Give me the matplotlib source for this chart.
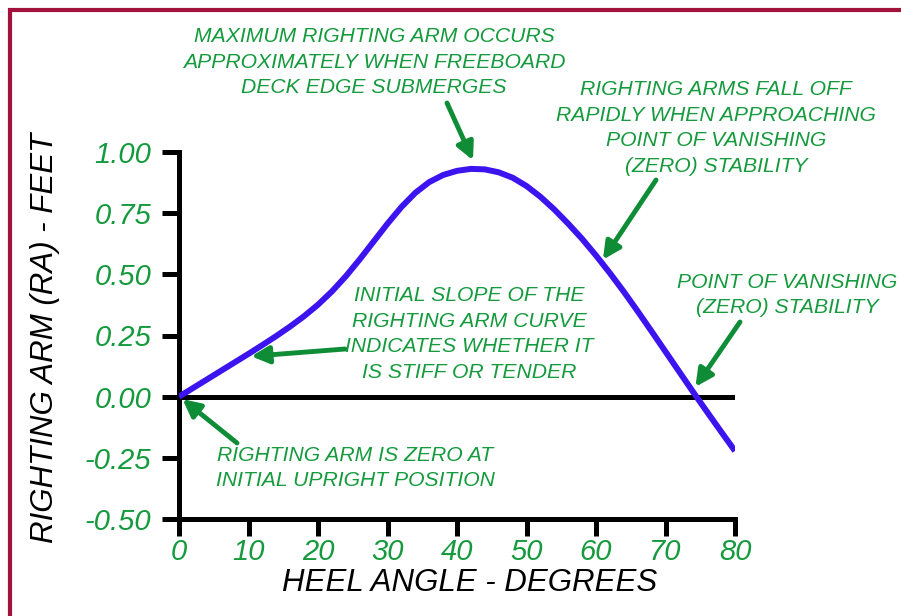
import matplotlib
matplotlib.use('Agg')
import matplotlib.pyplot as plt
from matplotlib.patches import Rectangle

# righting arm curve, every 2 degrees
heel = [0, 2, 4, 6, 8, 10, 12, 14, 16, 18, 20, 22, 24, 26, 28, 30, 32, 34, 36, 38, 40,
        42, 44, 46, 48, 50, 52, 54, 56, 58, 60, 62, 64, 66, 68, 70, 72, 74, 76, 78, 80]
ra = [0.000, 0.035, 0.070, 0.105, 0.140, 0.175, 0.211, 0.248, 0.287, 0.329, 0.376,
      0.430, 0.492, 0.561, 0.634, 0.707, 0.775, 0.833, 0.877, 0.906, 0.923, 0.931,
      0.929, 0.917, 0.895, 0.861, 0.817, 0.765, 0.707, 0.645, 0.577, 0.505, 0.429,
      0.349, 0.267, 0.184, 0.101, 0.018, -0.063, -0.143, -0.222]
xticks = [0, 10, 20, 30, 40, 50, 60, 70, 80]
yticks = [1.00, 0.75, 0.50, 0.25, 0.00, -0.25, -0.50]

GREEN = '#159a3d'
ARROW = '#0f8c36'
BLUE = '#3c14f0'
W, H = 901, 616

plt.rcParams['font.family'] = ['Liberation Sans', 'DejaVu Sans']
plt.rcParams['font.style'] = 'italic'

fig = plt.figure(figsize=(W / 100, H / 100), dpi=100)


def fp(x, y):
    # pixel from top-left -> figure fraction
    return (x / W, 1 - y / H)


# maroon frame (runs off the right and bottom edges)
fig.patches.append(Rectangle(fp(10, 640), 940 / W, 630 / H, transform=fig.transFigure,
                             fill=False, edgecolor='#a3123c', linewidth=3, zorder=0))

ax = fig.add_axes([179 / W, 1 - 519 / H, (735 - 179) / W, (519 - 152) / H])
ax.set_xlim(0, 80)
ax.set_ylim(-0.5, 1.0)
for s in ['top', 'right']:
    ax.spines[s].set_visible(False)
for s in ['left', 'bottom']:
    ax.spines[s].set_linewidth(3.6)
    ax.spines[s].set_capstyle('projecting')
ax.patch.set_alpha(0)

ax.set_xticks(xticks)
ax.set_xticklabels([str(v) for v in xticks])
ax.set_yticks(yticks)
ax.set_yticklabels(['%.2f' % v for v in yticks])
ax.tick_params(axis='both', length=12, width=3.6, color='black', labelcolor=GREEN,
               labelsize=21)
ax.tick_params(axis='y', pad=8)
ax.tick_params(axis='x', pad=2)

ax.axhline(0, color='black', lw=3.6, zorder=2)
ax.plot(heel, ra, color=BLUE, lw=4.3, zorder=3, solid_capstyle='butt',
        solid_joinstyle='round')

fig.text(*fp(470, 583), 'HEEL ANGLE - DEGREES', fontsize=22.5, ha='center', va='center')
fig.text(*fp(45, 338), 'RIGHTING ARM (RA) - FEET', fontsize=22.5, ha='center',
         va='center', rotation=90)

imax = ra.index(max(ra))
notes = [
    ('MAXIMUM RIGHTING ARM OCCURS\nAPPROXIMATELY WHEN FREEBOARD\nDECK EDGE SUBMERGES',
     (374, 62), (447, 103), (42.3, ra[imax] + 0.035)),
    ('RIGHTING ARMS FALL OFF\nRAPIDLY WHEN APPROACHING\nPOINT OF VANISHING\n(ZERO) STABILITY',
     (716, 128), (656, 180), (61.0, 0.56)),
    ('POINT OF VANISHING\n(ZERO) STABILITY', (787, 295), (740, 322), (74.3, 0.04)),
    ('INITIAL SLOPE OF THE\nRIGHTING ARM CURVE\nINDICATES WHETHER IT\nIS STIFF OR TENDER',
     (469, 334), (345, 349), (10.4, 0.165)),
    ('RIGHTING ARM IS ZERO AT\nINITIAL UPRIGHT POSITION', (355, 468), (237, 443), (0.5, -0.01)),
]
for txt, center, tail, tip in notes:
    fig.text(*fp(*center), txt, fontsize=15.2, color=GREEN, ha='center', va='center',
             linespacing=1.45, zorder=5)
    ax.annotate('', xy=tip, xycoords='data', xytext=fp(*tail), textcoords='figure fraction',
                arrowprops=dict(arrowstyle='-|>', color=ARROW, lw=3.5, mutation_scale=26,
                                shrinkA=0, shrinkB=0), zorder=4)

fig.savefig('out.png', dpi=100, facecolor='white')
